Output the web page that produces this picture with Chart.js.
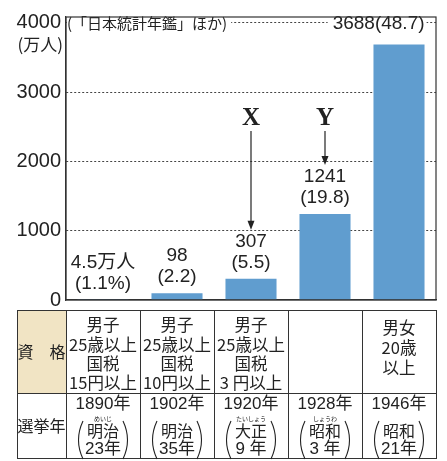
<!DOCTYPE html>
<html><head><meta charset="utf-8">
<script src="https://cdn.jsdelivr.net/npm/chart.js@4/dist/chart.umd.min.js"></script>
<style>html,body{margin:0;padding:0;background:#fff;}canvas{display:block;}</style>
</head><body>
<canvas id="c" width="447" height="461"></canvas>
<script>
// ---- data ----
const categories = ['1890', '1902', '1920', '1928', '1946'];
const voters = [4.5, 98, 307, 1241, 3688];          // 万人
const shares = [1.1, 2.2, 5.5, 19.8, 48.7];         // %
const yTicks = [0, 1000, 2000, 3000, 4000];
const qualifications = [
  ['男子', '25歳以上', '国税', '15円以上'],
  ['男子', '25歳以上', '国税', '10円以上'],
  ['男子', '25歳以上', '国税', '3 円以上'],
  [],
  ['男女', '20歳', '以上']
];
const electionYears = ['1890年', '1902年', '1920年', '1928年', '1946年'];
const eras = ['明治', '明治', '大正', '昭和', '昭和'];
const eraYears = ['23年', '35年', '9 年', '3 年', '21年'];
const eraRuby = ['めいじ', '', 'たいしょう', 'しょうわ', ''];
const arrowMarks = [{ label: 'X', index: 2 }, { label: 'Y', index: 3 }];
const sourceNote = '(「日本統計年鑑」ほか)';
const unitLabel = '(万人)';

const NUM = '"Liberation Sans", "Noto Sans CJK JP", sans-serif';
const JP = '"Noto Sans CJK JP", sans-serif';
const INK = '#222';

function labelLines(i) {
  if (i === 0) return [voters[i] + '万人', '(' + shares[i] + '%)'];
  if (i === voters.length - 1) return [voters[i] + '(' + shares[i] + ')'];
  return [String(voters[i]), '(' + shares[i] + ')'];
}

const overlay = {
  id: 'overlay',
  afterDatasetsDraw(chart) {
    const ctx = chart.ctx, ca = chart.chartArea;
    const meta = chart.getDatasetMeta(0);
    ctx.save();
    ctx.fillStyle = INK;
    ctx.textBaseline = 'middle';
    // value labels
    meta.data.forEach((bar, i) => {
      const lines = labelLines(i);
      ctx.font = '19px ' + NUM;
      if (lines.length === 1) {
        ctx.textAlign = 'right';
        const w = ctx.measureText(lines[0]).width;
        const x = bar.x + bar.width / 2;
        ctx.fillStyle = '#fff';
        ctx.fillRect(x - w - 5, 16, w + 7, 16);
        ctx.fillStyle = INK;
        ctx.fillText(lines[0], x, 24);
      } else {
        ctx.textAlign = 'center';
        ctx.fillText(lines[0], bar.x, bar.y - 37);
        ctx.fillText(lines[1], bar.x, bar.y - 16);
      }
    });
    // source note over the 4000 line
    ctx.font = '15px ' + JP;
    ctx.textAlign = 'left';
    const nw = ctx.measureText(sourceNote).width;
    ctx.fillStyle = '#fff';
    ctx.fillRect(ca.left + 1, 15, nw + 4, 18);
    ctx.fillStyle = INK;
    ctx.fillText(sourceNote, ca.left + 1, 23);
    // unit label
    ctx.font = '17px ' + JP;
    ctx.textAlign = 'right';
    ctx.fillText(unitLabel, ca.left - 3, 45);
    // arrows
    arrowMarks.forEach(m => {
      const bar = meta.data[m.index];
      const tip = bar.y - 49;
      ctx.font = 'bold 25px "Liberation Serif", serif';
      ctx.textAlign = 'center';
      ctx.fillText(m.label, bar.x, 119);
      ctx.strokeStyle = INK;
      ctx.lineWidth = 1.2;
      ctx.beginPath();
      ctx.moveTo(bar.x, 131);
      ctx.lineTo(bar.x, tip - 6);
      ctx.stroke();
      ctx.beginPath();
      ctx.moveTo(bar.x, tip);
      ctx.lineTo(bar.x - 3.5, tip - 9);
      ctx.lineTo(bar.x + 3.5, tip - 9);
      ctx.closePath();
      ctx.fill();
    });
    // frame
    ctx.strokeStyle = '#333';
    ctx.lineWidth = 1.2;
    ctx.strokeRect(ca.left, ca.top, ca.right - ca.left, ca.bottom - ca.top);
    ctx.restore();
    drawTable(chart);
  }
};

function drawTable(chart) {
  const ctx = chart.ctx, xs = chart.scales.x;
  const step = xs.width / categories.length;
  const left = 17, top = 310, mid = 393, bottom = 458;
  const edges = [left];
  for (let i = 0; i <= categories.length; i++) edges.push(xs.getPixelForValue(i) - step / 2);
  const right = edges[edges.length - 1];
  ctx.save();
  // header cell background
  ctx.fillStyle = '#f1e4c4';
  ctx.fillRect(left, top, edges[1] - left, mid - top);
  ctx.strokeStyle = '#333';
  ctx.lineWidth = 1;
  ctx.strokeRect(left + 0.5, top + 0.5, right - left, bottom - top);
  ctx.beginPath();
  ctx.moveTo(left, mid + 0.5); ctx.lineTo(right, mid + 0.5);
  edges.slice(1, -1).forEach(e => { ctx.moveTo(Math.round(e) + 0.5, top); ctx.lineTo(Math.round(e) + 0.5, bottom); });
  ctx.stroke();
  ctx.fillStyle = INK;
  ctx.textAlign = 'center';
  ctx.textBaseline = 'middle';
  const hx = (left + edges[1]) / 2;
  ctx.font = '16px ' + JP;
  ctx.fillText('資　格', hx, 352);
  ctx.fillText('選挙年', hx, 426);
  categories.forEach((c, i) => {
    const cx = (edges[i + 1] + edges[i + 2]) / 2;
    const cw = edges[i + 2] - edges[i + 1] - 2;
    // qualifications
    const q = qualifications[i];
    const startY = q.length === 4 ? 325 : 328;
    const dy = q.length === 4 ? 19.3 : 20;
    ctx.font = '16.5px ' + JP;
    q.forEach((t, k) => ctx.fillText(t, cx, startY + k * dy, cw));
    // election years
    ctx.font = '17px ' + NUM;
    ctx.fillText(electionYears[i], cx, 404, cw);
    ctx.font = '16px ' + JP;
    ctx.fillText(eras[i], cx, 431);
    ctx.font = '17px ' + NUM;
    ctx.fillText(eraYears[i], cx, 449);
    if (eraRuby[i]) {
      ctx.font = '6px ' + JP;
      ctx.fillText(eraRuby[i], cx, 419);
    }
    // tall parentheses
    ctx.strokeStyle = INK;
    ctx.lineWidth = 1.1;
    ctx.beginPath();
    ctx.moveTo(cx - 20, 421);
    ctx.quadraticCurveTo(cx - 29, 440, cx - 20, 459);
    ctx.moveTo(cx + 20, 421);
    ctx.quadraticCurveTo(cx + 29, 440, cx + 20, 459);
    ctx.stroke();
  });
  ctx.restore();
}

new Chart(document.getElementById('c'), {
  type: 'bar',
  data: {
    labels: categories,
    datasets: [{
      data: voters,
      backgroundColor: '#609dcf',
      borderWidth: 0,
      barPercentage: 0.69,
      categoryPercentage: 1
    }]
  },
  options: {
    responsive: false,
    animation: false,
    devicePixelRatio: 1,
    layout: { padding: { left: 0, top: 14, right: 11, bottom: 161 } },
    plugins: { legend: { display: false }, tooltip: { enabled: false } },
    scales: {
      x: {
        grid: { display: false },
        border: { display: true, color: '#333', width: 1.2 },
        ticks: { display: false },
        afterFit(s) { s.height = 0; }
      },
      y: {
        min: 0,
        max: 4086,
        afterBuildTicks(s) { s.ticks = yTicks.map(v => ({ value: v })); },
        afterFit(s) { s.width = 66; },
        grid: {
          drawTicks: false,
          color: ctx => ctx.tick && ctx.tick.value === 0 ? 'rgba(0,0,0,0)' : '#444',
          lineWidth: 1
        },
        border: { display: true, color: '#333', width: 1.2, dash: [2, 2] },
        ticks: {
          padding: 5,
          color: INK,
          font: { family: NUM, size: 20 },
          callback: v => String(v)
        }
      }
    }
  },
  plugins: [overlay]
});
</script>
</body></html>
